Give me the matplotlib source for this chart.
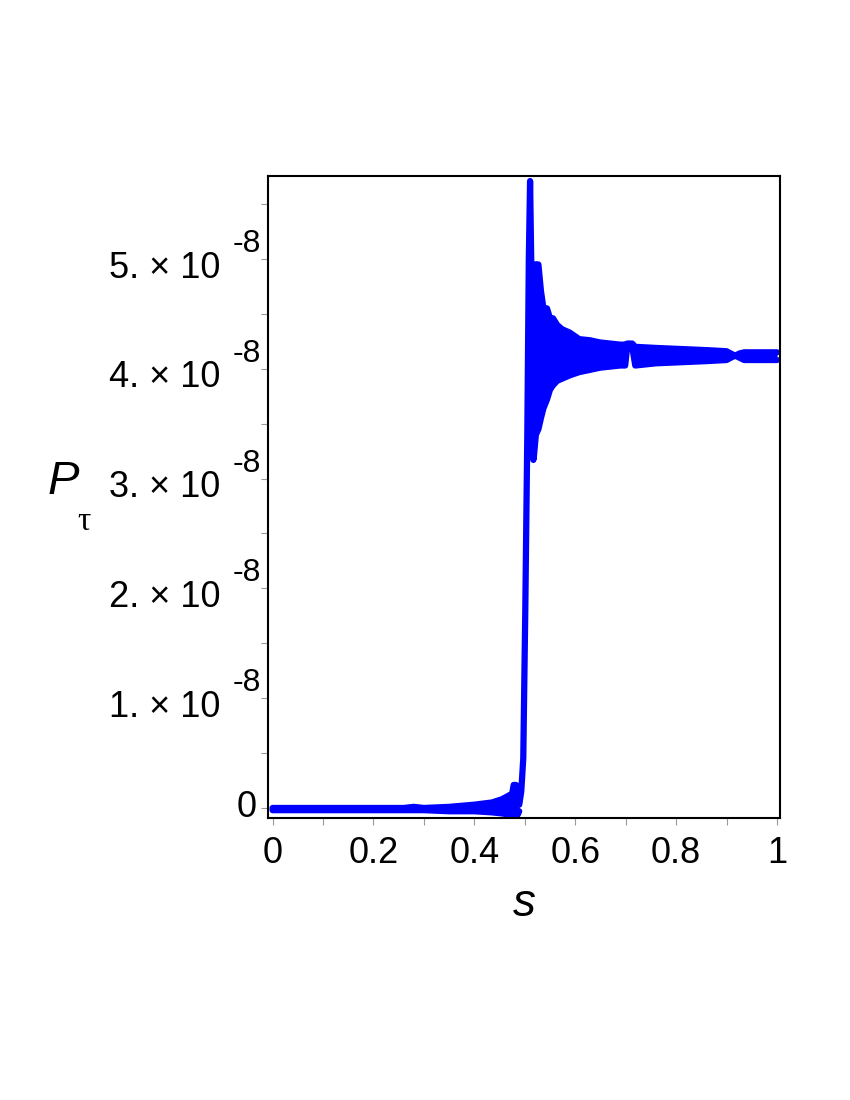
import numpy as np
from matplotlib import pyplot as plt
from matplotlib.ticker import MultipleLocator

plt.rcParams['font.family'] = ['Liberation Sans', 'DejaVu Sans']

# values in units of 1e-8
# flat part near zero (upper / lower edge of the thin band)
low_s = [0.0, 0.10, 0.20, 0.26, 0.28, 0.30, 0.35, 0.40, 0.435, 0.455, 0.467, 0.475, 0.478, 0.482, 0.486, 0.489]
low_hi = [0.0, 0.0, 0.0, 0.0, 0.01, 0.0, 0.01, 0.03, 0.05, 0.08, 0.11, 0.13, 0.21, 0.21, 0.20, 0.06]
low_lo = [-0.02, -0.02, -0.02, -0.02, -0.02, -0.02, -0.03, -0.03, -0.04, -0.05, -0.06, -0.07, -0.08, -0.08, -0.06, -0.03]

# the jump, overshoot and first dip
jump_s = [0.489, 0.493, 0.497, 0.501, 0.505, 0.508, 0.5105, 0.514, 0.517, 0.520, 0.523]
jump_p = [0.03, 0.15, 0.45, 1.8, 3.4, 5.0, 5.71, 4.6, 3.17, 3.6, 4.95]

# oscillating part (envelope of the fast oscillation)
band_s = [0.518, 0.522, 0.527, 0.532, 0.537, 0.544, 0.550, 0.556, 0.564, 0.574, 0.589, 0.608,
          0.629, 0.649, 0.669, 0.689, 0.699, 0.703, 0.713, 0.719, 0.76, 0.81, 0.86, 0.90,
          0.908, 0.917, 0.926, 0.935, 0.97, 1.0]
band_hi = [4.95, 4.95, 4.95, 4.71, 4.55, 4.55, 4.46, 4.46, 4.40, 4.36, 4.33, 4.27,
           4.26, 4.24, 4.23, 4.22, 4.22, 4.23, 4.23, 4.20, 4.19, 4.18, 4.17, 4.16,
           4.14, 4.12, 4.14, 4.15, 4.15, 4.15]
band_lo = [3.20, 3.40, 3.45, 3.55, 3.64, 3.72, 3.81, 3.85, 3.89, 3.91, 3.94, 3.97,
           3.99, 4.01, 4.02, 4.03, 4.03, 4.20, 4.20, 4.03, 4.05, 4.06, 4.07, 4.08,
           4.10, 4.12, 4.10, 4.08, 4.08, 4.08]

yticks = [0, 1, 2, 3, 4, 5]
ytick_main = ['0', '1. \u00d7 10', '2. \u00d7 10', '3. \u00d7 10', '4. \u00d7 10', '5. \u00d7 10']
xticks = [0, 0.2, 0.4, 0.6, 0.8, 1]
xtick_labels = ['0', '0.2', '0.4', '0.6', '0.8', '1']

scale = 1e-8
blue = (0, 0, 1)
lw = 4.5

fig = plt.figure(figsize=(8.5, 11), dpi=100)
ax = fig.add_axes([0.3153, 0.2564, 0.6024, 0.5836])

low_hi_a = np.array(low_hi) * scale
low_lo_a = np.array(low_lo) * scale
ax.fill_between(low_s, low_lo_a, low_hi_a, color=blue, lw=0)
ax.plot(low_s, low_hi_a, color=blue, lw=lw, solid_capstyle='round', solid_joinstyle='round')
ax.plot(low_s, low_lo_a, color=blue, lw=lw, solid_capstyle='round', solid_joinstyle='round')

ax.plot(jump_s, np.array(jump_p) * scale, color=blue, lw=lw,
        solid_capstyle='round', solid_joinstyle='round')

band_hi_a = np.array(band_hi) * scale
band_lo_a = np.array(band_lo) * scale
ax.fill_between(band_s, band_lo_a, band_hi_a, color=blue, lw=0)
ax.plot(band_s, band_hi_a, color=blue, lw=lw, solid_capstyle='round', solid_joinstyle='round')
ax.plot(band_s, band_lo_a, color=blue, lw=lw, solid_capstyle='round', solid_joinstyle='round')

ax.set_xlim(-0.009, 1.006)
ax.set_ylim(-0.091 * scale, 5.756 * scale)

for sp in ax.spines.values():
    sp.set_linewidth(1.5)
    sp.set_color('black')

ax.set_xticks(xticks)
ax.set_xticklabels(xtick_labels, fontsize=26)
ax.xaxis.set_minor_locator(MultipleLocator(0.1))
ax.set_yticks([v * scale for v in yticks])
ax.set_yticklabels([])
ax.yaxis.set_minor_locator(MultipleLocator(0.5 * scale))
ax.tick_params(which='both', direction='out', length=5, width=0.8, color='#999999')
ax.tick_params(axis='x', which='major', pad=8)

# y tick labels: "N. x 10" with a raised "-8"
for v, lab in zip(yticks, ytick_main):
    if v == 0:
        ax.annotate(lab, xy=(0, 0), xycoords=('axes fraction', 'data'),
                    xytext=(-11, 0), textcoords='offset pixels',
                    ha='right', va='center', fontsize=26)
        continue
    ax.annotate(lab, xy=(0, v * scale), xycoords=('axes fraction', 'data'),
                xytext=(-48, -9), textcoords='offset pixels',
                ha='right', va='center', fontsize=26)
    ax.annotate('-8', xy=(0, v * scale), xycoords=('axes fraction', 'data'),
                xytext=(-7, 15), textcoords='offset pixels',
                ha='right', va='center', fontsize=23)

ax.set_xlabel('s', fontsize=33, style='italic', labelpad=8)
ax.text(-0.43, 0.523, 'P', transform=ax.transAxes, fontsize=34, style='italic',
        ha='left', va='center')
ax.text(-0.359, 0.461, '\u03c4', transform=ax.transAxes, fontsize=24,
        family=['Liberation Serif', 'DejaVu Serif'], ha='center', va='center')

fig.savefig('out.png', dpi=100)
